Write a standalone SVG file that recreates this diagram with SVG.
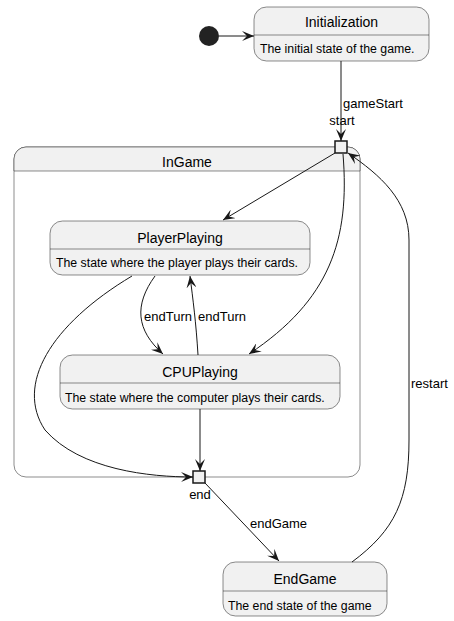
<svg xmlns="http://www.w3.org/2000/svg" width="454" height="621" viewBox="0 0 454 621">
<style>
.box{fill:#F1F1F1;stroke:#181818;stroke-width:0.5}
.sep{stroke:#181818;stroke-width:0.5}
.port{fill:#F1F1F1;stroke:#181818;stroke-width:1.5}
.title{font-family:"Liberation Sans",Arial,sans-serif;font-size:14px;fill:#000;text-anchor:middle}
.desc{font-family:"Liberation Sans",Arial,sans-serif;font-size:12.3px;fill:#000}
.lbl{font-family:"Liberation Sans",Arial,sans-serif;font-size:13px;fill:#000}
.edge{fill:none;stroke:#181818;stroke-width:1;marker-end:url(#arr)}
</style>
<defs>
<marker id="arr" viewBox="0 0 12 10" refX="12" refY="5" markerWidth="12" markerHeight="10" markerUnits="userSpaceOnUse" orient="auto">
<path d="M0,0 L12,5 L0,10 L5,5 z" fill="#181818"/>
</marker>
</defs>
<rect width="454" height="621" fill="#FFFFFF"/>
<g id="InGame">
<path d="M26,147 H348 A12,12 0 0 1 360,159 V465 A12,12 0 0 1 348,477 H26 A12,12 0 0 1 14,465 V159 A12,12 0 0 1 26,147 Z" fill="#FFFFFF" stroke="#181818" stroke-width="0.5"/>
<path d="M26,147 H348 A12,12 0 0 1 360,159 V171 H14 V159 A12,12 0 0 1 26,147 Z" fill="#F1F1F1" stroke="#181818" stroke-width="0.5"/>
<text class="title" x="187" y="167">InGame</text>
</g>
<g id="start">
<rect class="port" x="335" y="141" width="12" height="12"/>
<text class="lbl" x="342" y="125" text-anchor="middle" font-size="14">start</text>
</g>
<g id="end">
<rect class="port" x="193" y="471" width="12" height="12"/>
<text class="lbl" x="200" y="499" text-anchor="middle" font-size="14">end</text>
</g>
<g id="initial">
<circle cx="209" cy="36" r="10" fill="#222222"/>
</g>
<g id="Initialization">
<rect class="box" x="254" y="7" width="175" height="54" rx="12.5"/>
<line class="sep" x1="254" y1="35" x2="429" y2="35"/>
<text class="title" x="341.5" y="27">Initialization</text>
<text class="desc" x="260" y="53">The initial state of the game.</text>
</g>
<g id="PlayerPlaying">
<rect class="box" x="50" y="221" width="260" height="54" rx="12.5"/>
<line class="sep" x1="50" y1="249" x2="310" y2="249"/>
<text class="title" x="180" y="243">PlayerPlaying</text>
<text class="desc" x="56" y="267">The state where the player plays their cards.</text>
</g>
<g id="CPUPlaying">
<rect class="box" x="60" y="355" width="280" height="54" rx="12.5"/>
<line class="sep" x1="60" y1="383" x2="340" y2="383"/>
<text class="title" x="200" y="377">CPUPlaying</text>
<text class="desc" x="65" y="402">The state where the computer plays their cards.</text>
</g>
<g id="EndGame">
<rect class="box" x="223" y="562" width="164" height="54" rx="12.5"/>
<line class="sep" x1="223" y1="591" x2="387" y2="591"/>
<text class="title" x="305" y="584">EndGame</text>
<text class="desc" x="228" y="610">The end state of the game</text>
</g>
<g id="connectors">
<path class="edge" d="M219,36 L254,36"/>
<path class="edge" d="M341,61 L341,141"/>
<text class="lbl" x="343" y="108">gameStart</text>
<path class="edge" d="M335,153 L223,220"/>
<path class="edge" d="M343,154 C350,240 330,300 249,354"/>
<path class="edge" d="M155,276 C134,305 136,330 163,354"/>
<text class="lbl" x="144" y="321">endTurn</text>
<path class="edge" d="M198,355 C196,322 193,300 190,276"/>
<text class="lbl" x="198" y="321">endTurn</text>
<path class="edge" d="M132,276 C50,325 15,385 45,430 C80,470 150,477 193,477"/>
<path class="edge" d="M200,409 L200,471"/>
<path class="edge" d="M205,483 L279,561"/>
<text class="lbl" x="250" y="528">endGame</text>
<path class="edge" d="M352,562 C395,530 409,500 409,440 L409,240 C409,200 380,175 348,153"/>
<text class="lbl" x="411" y="388">restart</text>
</g>
</svg>
